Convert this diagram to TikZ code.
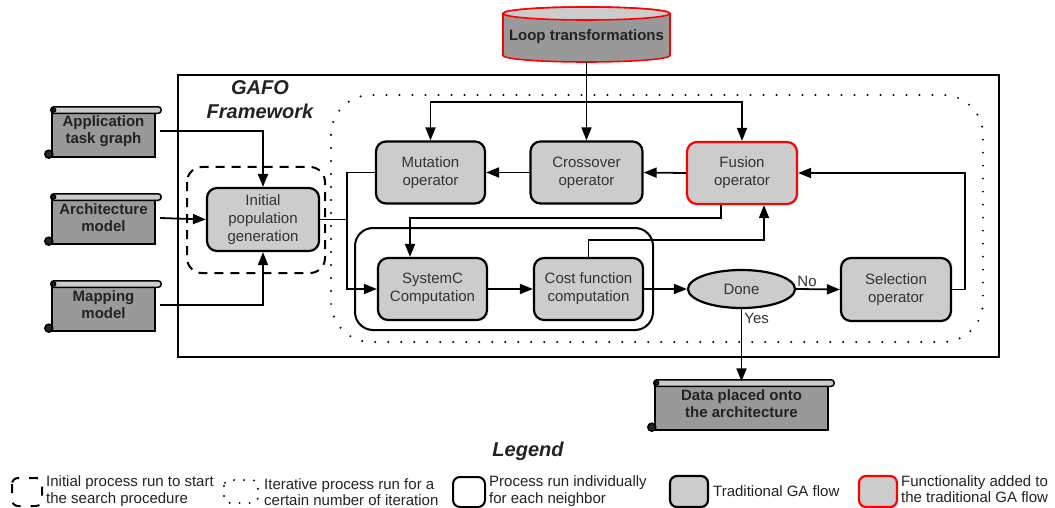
\documentclass[tikz,border=0pt]{standalone}
\usepackage{fontspec}
\setmainfont{Liberation Sans}
\usetikzlibrary{arrows.meta,shapes.geometric,backgrounds,calc}
\definecolor{nodegray}{HTML}{CCCCCC}
\definecolor{scrollgray}{HTML}{999999}
\definecolor{txt}{HTML}{333333}
\definecolor{dtxt}{HTML}{222222}
\definecolor{fred}{HTML}{FF0000}
\tikzset{
  proc/.style={draw, line width=2.2pt, fill=nodegray, rounded corners=10pt,
    minimum width=109pt, minimum height=62pt, align=center, text=txt,
    font=\fontsize{15}{18}\selectfont, inner sep=0pt},
  added/.style={proc, draw=fred},
  conn/.style={line width=1.8pt},
  arr/.style={conn, -{Triangle[length=13pt,width=10pt]}},
  scrolltext/.style={minimum width=103pt, minimum height=45pt, align=center,
    inner sep=0pt, font=\fontsize{15}{17}\selectfont\bfseries, text=dtxt},
  dotbox/.style={line width=2.2pt, dash pattern=on 0pt off 13pt, line cap=round},
  dashbox/.style={line width=2pt, dash pattern=on 9pt off 7pt},
  legtext/.style={anchor=west, align=left, inner sep=0pt, text=dtxt,
    font=\fontsize{15}{16.5}\selectfont},
  lbl/.style={text=txt, font=\fontsize{15}{18}\selectfont, inner sep=2pt},
  titletext/.style={align=center, text=dtxt, font=\fontsize{20}{24}\selectfont\bfseries\itshape}
}
\newcommand{\scrolldeco}[1]{%
  \draw[line width=1.8pt, fill=scrollgray] ([yshift=-3.5pt]#1.north west) rectangle ([yshift=-3.5pt]#1.south east);
  \draw[line width=1.5pt, fill=nodegray, rounded corners=3pt] ([xshift=-1pt,yshift=1.5pt]#1.north west) rectangle ([xshift=6pt,yshift=-5pt]#1.north east);
  \draw[line width=1.2pt, fill=black!85] ([xshift=2pt,yshift=-1.7pt]#1.north west) circle[radius=2pt];
  \draw[line width=1.5pt, fill=black!85] ([xshift=-3pt,yshift=-0.5pt]#1.south west) circle[radius=4pt];
}
\begin{document}
\begin{tikzpicture}[x=1pt,y=-1pt]
\useasboundingbox (0,0) rectangle (1055,508);

% framework and grouping frames
\draw[line width=2pt] (178,75) rectangle (999,357);
\node[titletext] (gafo) at (260,100) {GAFO\\Framework};
\draw[dotbox, rounded corners=40pt] (331,95) rectangle (983,342);
\draw[dashbox, rounded corners=15pt] (187,167) rectangle (325,273);
\draw[line width=2pt, rounded corners=18pt] (355,228) rectangle (653,330);

% loop transformations cylinder
\path[draw=fred, line width=1.6pt, fill=scrollgray] (503,13.5) -- (503,55.5)
  arc[start angle=180, end angle=360, x radius=83.5pt, y radius=6.5pt] -- (670,13.5)
  arc[start angle=0, end angle=180, x radius=83.5pt, y radius=6.5pt] -- cycle;
\draw[draw=fred, line width=1.6pt, fill=nodegray] (586.5,13.5) ellipse[x radius=83.5pt, y radius=6.5pt];
\node[font=\fontsize{15}{18}\selectfont\bfseries, text=dtxt] (loop) at (586.5,37) {Loop transformations};
\coordinate (loopb) at (586.5,62);

% input scrolls
\node[scrolltext] (app) at (103.5,131) {Application\\task graph};
\node[scrolltext] (arch) at (103.5,218) {Architecture\\model};
\node[scrolltext] (map) at (103.5,305) {Mapping\\model};
\node[scrolltext, minimum width=173pt] (data) at (741.5,404) {Data placed onto\\the architecture};
\begin{scope}[on background layer]
  \scrolldeco{app}
  \scrolldeco{arch}
  \scrolldeco{map}
  \scrolldeco{data}
\end{scope}

% process nodes
\node[proc, minimum width=112pt, minimum height=63pt] (init) at (263,219.5) {Initial\\population\\generation};
\node[proc] (mut) at (430.5,172.5) {Mutation\\operator};
\node[proc, minimum width=112pt] (cross) at (586.5,172.5) {Crossover\\operator};
\node[added, minimum width=110pt] (fus) at (742,173) {Fusion\\operator};
\node[proc] (sysc) at (432.5,289) {SystemC\\Computation};
\node[proc] (cost) at (588.5,289) {Cost function\\computation};
\node[ellipse, draw, line width=2.2pt, fill=nodegray, minimum width=107pt, minimum height=38pt,
  inner sep=0pt, text=txt, font=\fontsize{15}{18}\selectfont] (done) at (741.5,289) {Done};
\node[proc, minimum width=110pt, minimum height=63pt] (sel) at (896,289.5) {Selection\\operator};

% connectors
\draw[arr] ([xshift=5pt]app.east) -| (init.north);
\draw[arr] ([xshift=5pt]arch.east) -- (init.west);
\draw[arr] ([xshift=5pt]map.east) -| (init.south);
\coordinate (br) at (586.5,102);
\draw[arr] (loopb) -- (cross.north);
\draw[arr] (br) -| (mut.north);
\draw[arr] (br) -| (fus.north);
\draw[arr] (fus.west) -- (cross.east);
\draw[arr] (cross.west) -- (mut.east);
\coordinate (j1) at (348,219.5);
\draw[arr] (mut.west) -- ++(-28,0) |- (sysc.west);
\draw[conn] (init.east) -- (j1);
\draw[arr] ([xshift=-21pt]fus.south) -- ++(0,13) -| ([xshift=-22.5pt]sysc.north);
\draw[arr] (cost.north) -- ++(0,-17) -| ([xshift=22pt]fus.south);
\draw[arr] (sysc.east) -- (cost.west);
\draw[arr] (cost.east) -- (done.west);
\draw[arr] (done.east) -- node[lbl, pos=0.25, above] {No} (sel.west);
\draw[arr] (done.south) -- node[lbl, pos=0.13, right] {Yes} (data.north);
\draw[arr] (sel.east) -- ++(13,0) |- (fus.east);

% legend
\node[titletext] (legend) at (528,451) {Legend};
\draw[dashbox, dash pattern=on 9pt off 10pt, rounded corners=6pt] (12,478) rectangle (42,506);
\node[legtext] (l1) at (46,491) {Initial process run to start\\the search procedure};
\draw[dotbox, dash pattern=on 0pt off 10pt, rounded corners=6pt] (224,480) rectangle (258,503);
\node[legtext] (l2) at (264,492) {Iterative process run for a\\certain number of iteration};
\draw[line width=2pt, rounded corners=7pt] (453,477) rectangle (485,507);
\node[legtext] (l3) at (489,491) {Process run individually\\for each neighbor};
\draw[line width=2.2pt, fill=nodegray, rounded corners=7pt] (670,476) rectangle (708,507);
\node[legtext] (l4) at (713,491) {Traditional GA flow};
\draw[draw=fred, line width=2.2pt, fill=nodegray, rounded corners=7pt] (859,476) rectangle (897,507);
\node[legtext] (l5) at (901,489) {Functionality added to\\the traditional GA flow};
\end{tikzpicture}
\end{document}
